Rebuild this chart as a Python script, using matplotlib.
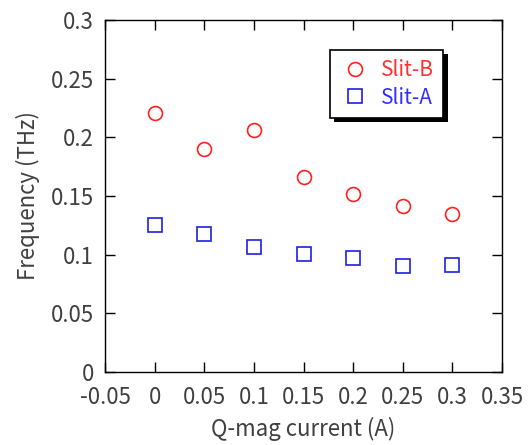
import matplotlib
matplotlib.use("Agg")
import matplotlib.pyplot as plt
import matplotlib.patheffects as pe

plt.rcParams['font.family'] = ['Noto Sans CJK JP', 'DejaVu Sans']

current = [0.0, 0.05, 0.10, 0.15, 0.20, 0.25, 0.30]
slit_b = [0.2207, 0.1898, 0.2065, 0.1665, 0.1514, 0.1412, 0.1347]
slit_a = [0.1253, 0.1179, 0.1065, 0.1009, 0.0972, 0.0906, 0.0915]

x_ticks = [-0.05, 0, 0.05, 0.1, 0.15, 0.2, 0.25, 0.3, 0.35]
x_labels = ['-0.05', '0', '0.05', '0.1', '0.15', '0.2', '0.25', '0.3', '0.35']
y_ticks = [0, 0.05, 0.1, 0.15, 0.2, 0.25, 0.3]
y_labels = ['0', '0.05', '0.1', '0.15', '0.2', '0.25', '0.3']

text_color = '#404040'

fig = plt.figure(figsize=(5.32, 4.45), dpi=100)
ax = fig.add_axes([105 / 532, 1 - 372 / 445, 397 / 532, 352 / 445])

ax.plot(current, slit_b, linestyle='none', marker='o', markersize=10,
        markerfacecolor='none', markeredgecolor='#ff2020', markeredgewidth=1.2,
        label='Slit-B')
ax.plot(current, slit_a, linestyle='none', marker='s', markersize=10,
        markerfacecolor='none', markeredgecolor='#2020e0', markeredgewidth=1.2,
        label='Slit-A')

ax.set_xlim(-0.05, 0.35)
ax.set_ylim(0, 0.3)
ax.set_xticks(x_ticks)
ax.set_xticklabels(x_labels)
ax.set_yticks(y_ticks)
ax.set_yticklabels(y_labels)

ax.tick_params(direction='in', top=True, right=True, length=7, width=1,
               labelsize=16, labelcolor=text_color)
ax.tick_params(axis='x', pad=10)
ax.tick_params(axis='y', pad=8)
for s in ax.spines.values():
    s.set_linewidth(1)
    s.set_color('black')

ax.set_xlabel('Q-mag current (A)', fontsize=16, color=text_color, labelpad=6)
ax.set_ylabel('Frequency (THz)', fontsize=16, color=text_color, labelpad=8)

leg = ax.legend(loc='upper left', bbox_to_anchor=(225 / 397, 1 - 30 / 352),
                fontsize=15, frameon=True, fancybox=False, shadow=False,
                framealpha=1.0, facecolor='white',
                handletextpad=0.5, borderpad=0.45, labelspacing=0.25,
                handlelength=1.5, borderaxespad=0)
frame = leg.get_frame()
frame.set_edgecolor('black')
frame.set_linewidth(1.2)
frame.set_path_effects([pe.SimplePatchShadow(offset=(3, -3), shadow_rgbFace='black', alpha=1.0),
                        pe.Normal()])
for t, c in zip(leg.get_texts(), ['#ff3030', '#3030ff']):
    t.set_color(c)

fig.savefig('out.png', dpi=100)
